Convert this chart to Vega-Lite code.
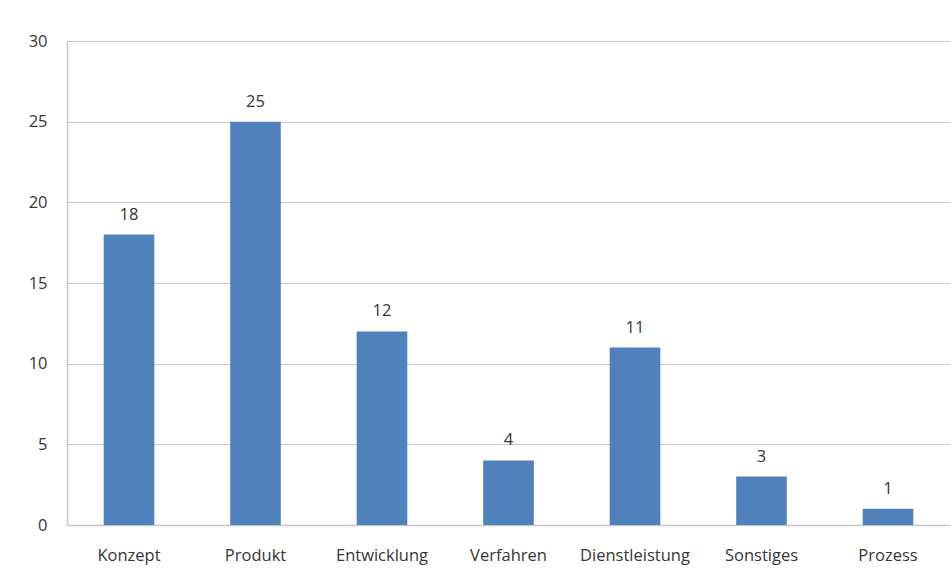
{
  "$schema": "https://vega.github.io/schema/vega-lite/v6.json",
  "autosize": {"type": "none"},
  "padding": {"left": 67, "top": 41, "right": 1, "bottom": 50},
  "width": 883,
  "height": 484,
  "background": "white",
  "config": {
    "view": {"stroke": null},
    "font": "Open Sans"
  },
  "data": {
    "values": [
      {"kategorie": "Konzept", "anzahl": 18},
      {"kategorie": "Produkt", "anzahl": 25},
      {"kategorie": "Entwicklung", "anzahl": 12},
      {"kategorie": "Verfahren", "anzahl": 4},
      {"kategorie": "Dienstleistung", "anzahl": 11},
      {"kategorie": "Sonstiges", "anzahl": 3},
      {"kategorie": "Prozess", "anzahl": 1}
    ]
  },
  "encoding": {
    "x": {
      "field": "kategorie",
      "type": "nominal",
      "sort": null,
      "scale": {"paddingInner": 0.6, "paddingOuter": 0.29},
      "axis": {
        "title": null,
        "labelAngle": 0,
        "ticks": false,
        "domainColor": "#c8c8c8",
        "domainWidth": 1.5,
        "labelColor": "#363636",
        "labelFontSize": 16.5,
        "labelPadding": 22
      }
    },
    "y": {
      "field": "anzahl",
      "type": "quantitative",
      "scale": {"domain": [0, 30]},
      "axis": {
        "title": null,
        "values": [0, 5, 10, 15, 20, 25, 30],
        "ticks": false,
        "domain": true,
        "domainColor": "#c8c8c8",
        "domainWidth": 1.5,
        "gridColor": "#c8c8c8",
        "gridWidth": 1.2,
        "labelColor": "#363636",
        "labelFontSize": 16.5,
        "labelPadding": 20
      }
    }
  },
  "layer": [
    {"mark": {"type": "bar", "color": "#4F81BD"}},
    {
      "mark": {"type": "text", "baseline": "alphabetic", "dy": -15, "fontSize": 16.5, "color": "#363636"},
      "encoding": {"text": {"field": "anzahl", "type": "quantitative"}}
    }
  ]
}
